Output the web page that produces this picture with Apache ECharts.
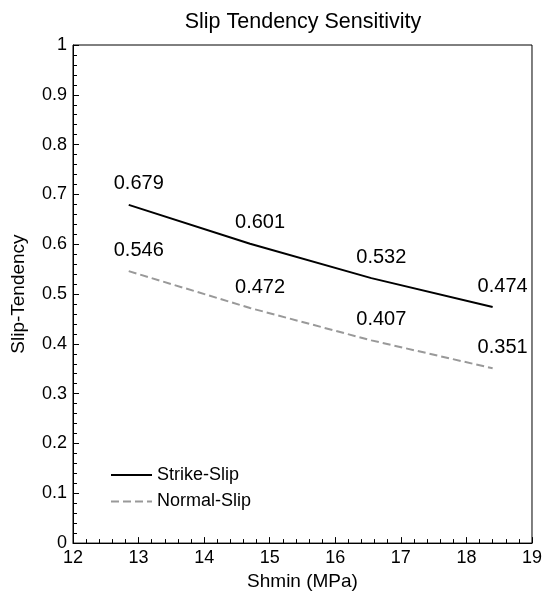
<!DOCTYPE html>
<html>
<head>
<meta charset="utf-8">
<script src="https://cdn.jsdelivr.net/npm/echarts@6/dist/echarts.min.js"></script>
<style>
  html, body { margin: 0; padding: 0; background: #fff; }
  #chart { width: 545px; height: 596px; }
</style>
</head>
<body>
<div id="chart"></div>
<script>
// Minimum horizontal stress values (MPa) at which slip tendency was evaluated
const shmin = [12.85, 14.7, 16.55, 18.4];
// Slip tendency for each faulting regime
const strikeSlip = [0.679, 0.601, 0.532, 0.474];
const normalSlip = [0.546, 0.472, 0.407, 0.351];
const seriesNames = ['Strike-Slip', 'Normal-Slip'];

const FONT = '"Liberation Sans", Arial, Helvetica, sans-serif';

const pairs = (xs, ys) => xs.map((x, i) => [x, ys[i]]);

const valueLabel = {
  show: true,
  position: 'top',
  distance: 11,
  offset: [10, 0],
  color: '#000',
  fontSize: 20,
  fontFamily: FONT,
  formatter: p => p.value[1].toFixed(3)
};

const axisCommon = {
  axisLine: { show: true, onZero: false, lineStyle: { color: '#000', width: 1 } },
  axisTick: { show: true, inside: true, length: 6, lineStyle: { color: '#000', width: 1 } },
  minorTick: { show: true, splitNumber: 5, length: 4, lineStyle: { color: '#000', width: 1 } },
  splitLine: { show: false },
  nameTextStyle: { color: '#000', fontSize: 19, fontFamily: FONT },
  axisLabel: { color: '#000', fontSize: 18, fontFamily: FONT, margin: 6 }
};

const chart = echarts.init(document.getElementById('chart'), null, { renderer: 'canvas' });
chart.setOption({
  backgroundColor: '#fff',
  animation: false,
  title: {
    text: 'Slip Tendency Sensitivity',
    left: 298,
    textAlign: 'center',
    top: 6,
    textStyle: { color: '#000', fontSize: 21.5, fontWeight: 'normal', fontFamily: FONT }
  },
  grid: {
    left: 73, right: 11, top: 45, bottom: 51,
    show: true, borderColor: '#000', borderWidth: 1, backgroundColor: 'transparent'
  },
  legend: {
    orient: 'vertical',
    left: 105,
    top: 461,
    itemWidth: 41,
    itemHeight: 14,
    itemGap: 8.4,
    data: seriesNames,
    itemStyle: { opacity: 0 },
    textStyle: { color: '#000', fontSize: 18, fontFamily: FONT }
  },
  xAxis: Object.assign({}, axisCommon, {
    type: 'value',
    min: 12, max: 19, interval: 1,
    name: 'Shmin (MPa)',
    nameLocation: 'middle',
    nameGap: 27
  }),
  yAxis: Object.assign({}, axisCommon, {
    type: 'value',
    min: 0, max: 1, interval: 0.1,
    name: 'Slip-Tendency',
    nameLocation: 'middle',
    nameGap: 45
  }),
  series: [
    {
      name: seriesNames[0],
      type: 'line',
      data: pairs(shmin, strikeSlip),
      symbol: 'circle',
      symbolSize: 0,
      showSymbol: true,
      lineStyle: { color: '#000', width: 2 },
      itemStyle: { color: '#000' },
      label: valueLabel
    },
    {
      name: seriesNames[1],
      type: 'line',
      data: pairs(shmin, normalSlip),
      symbol: 'circle',
      symbolSize: 0,
      showSymbol: true,
      lineStyle: { color: '#999', width: 2, type: [8, 4] },
      itemStyle: { color: '#999' },
      label: valueLabel
    }
  ]
});
</script>
</body>
</html>
